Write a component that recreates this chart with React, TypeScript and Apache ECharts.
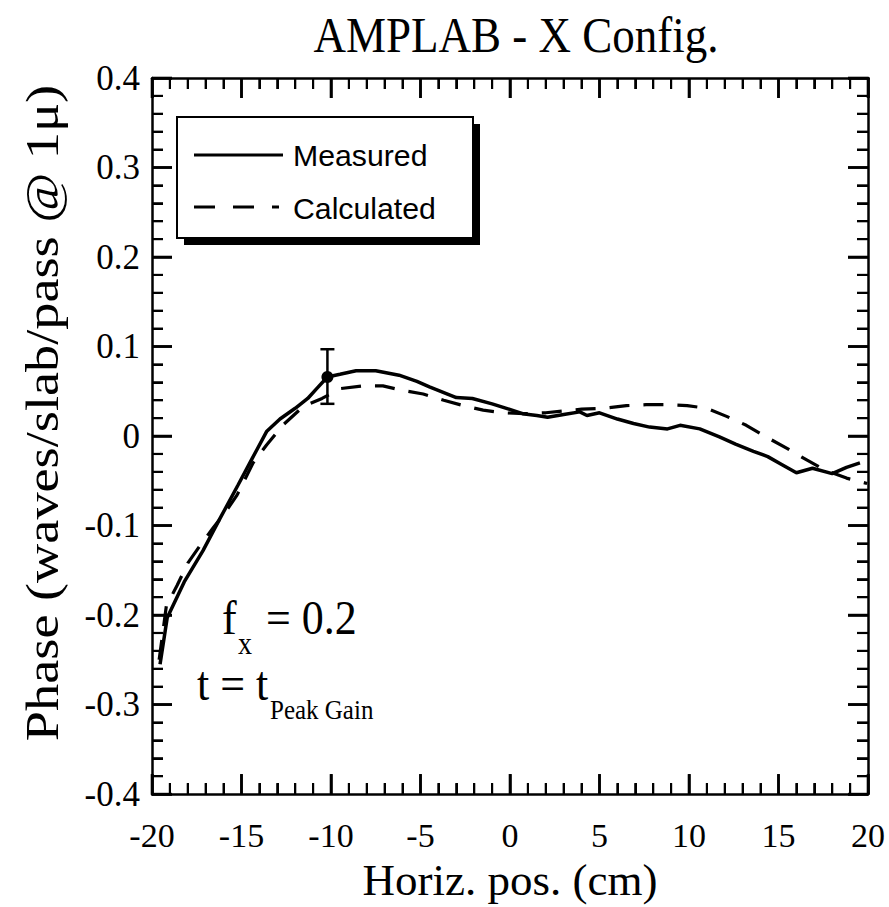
import React, { useEffect, useRef } from "react";
import * as echarts from "echarts";

const xTicks = [-20, -15, -10, -5, 0, 5, 10, 15, 20];
const yTicks = [-0.4, -0.3, -0.2, -0.1, 0, 0.1, 0.2, 0.3, 0.4];
const minorPerMajor = 5;

const measuredX = [-19.55, -19.15, -18.2, -17.15, -16.2, -15.2, -14.4, -13.6, -12.85, -12.0, -11.3, -10.8, -10.2, -9.5, -8.6, -7.5, -6.2, -5.2, -4.5, -3.0, -2.1, -1.0, -0.2, 0.7, 1.5, 2.1, 3.0, 3.9, 4.3, 5.0, 6.0, 6.9, 7.8, 8.8, 9.5, 10.6, 11.7, 12.6, 13.6, 14.4, 15.2, 16.0, 16.9, 18.0, 18.8, 19.55];
const measuredY = [-0.255, -0.203, -0.163, -0.128, -0.092, -0.055, -0.025, 0.005, 0.019, 0.031, 0.042, 0.053, 0.066, 0.069, 0.073, 0.073, 0.068, 0.061, 0.055, 0.043, 0.042, 0.036, 0.031, 0.025, 0.023, 0.021, 0.024, 0.027, 0.023, 0.026, 0.019, 0.014, 0.010, 0.008, 0.012, 0.008, -0.001, -0.009, -0.017, -0.023, -0.032, -0.041, -0.036, -0.042, -0.035, -0.030];

const calcX = [-19.6, -19.2, -18.6, -18.0, -17.3, -16.6, -15.9, -15.25, -14.35, -13.6, -12.7, -11.55, -10.5, -9.5, -8.2, -7.1, -6.0, -4.85, -3.7, -2.6, -1.5, -0.4, 0.8, 2.0, 3.0, 4.0, 5.2, 6.5, 7.6, 8.8, 9.9, 11.0, 12.1, 13.2, 14.4, 15.5, 16.6, 17.6, 18.8, 19.95];
const calcY = [-0.25, -0.19, -0.167, -0.142, -0.122, -0.103, -0.085, -0.066, -0.03, -0.01, 0.012, 0.033, 0.042, 0.053, 0.056, 0.056, 0.051, 0.047, 0.040, 0.034, 0.029, 0.026, 0.025, 0.026, 0.028, 0.030, 0.031, 0.034, 0.035, 0.035, 0.034, 0.031, 0.022, 0.012, -0.002, -0.014, -0.027, -0.038, -0.047, -0.053];

// error bar: [x, center, low, high]
const errorBarX = [-10.2];
const errorBarCenter = [0.066];
const errorBarLow = [0.036];
const errorBarHigh = [0.097];

const seriesNames = ["Measured", "Calculated"];

const SERIF = "'Liberation Serif', 'Times New Roman', serif";
const SANS = "'Liberation Sans', Arial, sans-serif";

export default function App() {
  const ref = useRef<HTMLDivElement>(null);

  useEffect(() => {
    if (!ref.current) return;
    const chart = echarts.init(ref.current, undefined, { renderer: "svg" });

    const measured = measuredX.map((x, i) => [x, measuredY[i]]);
    const calculated = calcX.map((x, i) => [x, calcY[i]]);
    const errData = errorBarX.map((x, i) => [x, errorBarCenter[i], errorBarLow[i], errorBarHigh[i]]);

    const mkLine = () => ({ show: true, onZero: false, lineStyle: { color: "#000", width: 2.5 } });
    const mkTick = () => ({ show: true, inside: true, length: 20, lineStyle: { color: "#000", width: 2.5 } });
    const mkMinor = () => ({ show: true, splitNumber: 5, length: 11, lineStyle: { color: "#000", width: 2 } });
    const yFmt = (v: number) => (Math.abs(v) < 1e-9 ? "0" : v.toFixed(1));

    const minorOf = (ticks: number[]) => {
      const out: number[] = [];
      for (let i = 0; i < ticks.length - 1; i++) {
        const step = (ticks[i + 1] - ticks[i]) / minorPerMajor;
        for (let k = 1; k < minorPerMajor; k++) out.push(ticks[i] + step * k);
      }
      return out;
    };

    const annot = (text: string, x: number, y: number, size: number) => ({
      type: "text",
      x,
      y,
      scaleY: 1.12,
      z: 12,
      style: { text, font: `${size}px ${SERIF}`, fill: "#000", textAlign: "left", textVerticalAlign: "middle" },
    });

    const baseGraphics: any[] = [
      {
        type: "text",
        x: 516,
        y: 35,
        scaleX: 0.9,
        style: {
          text: "AMPLAB - X Config.",
          font: `50px ${SERIF}`,
          fill: "#000",
          textAlign: "center",
          textVerticalAlign: "middle",
        },
      },
      {
        type: "text",
        x: 42,
        y: 413,
        rotation: Math.PI / 2,
        scaleX: 1.18,
        style: {
          text: "Phase (waves/slab/pass @ 1μ)",
          font: `46px ${SERIF}`,
          fill: "#000",
          textAlign: "center",
          textVerticalAlign: "middle",
        },
      },
      { type: "rect", shape: { x: 184, y: 124, width: 296, height: 121 }, style: { fill: "#000" }, z: 10 },
      { type: "rect", shape: { x: 177, y: 117, width: 296, height: 121 }, style: { fill: "#fff", stroke: "#000", lineWidth: 2 }, z: 11 },
      { type: "line", shape: { x1: 194, y1: 155, x2: 283, y2: 155 }, style: { stroke: "#000", lineWidth: 3 }, z: 12 },
      { type: "line", shape: { x1: 194, y1: 207, x2: 279, y2: 207 }, style: { stroke: "#000", lineWidth: 3, lineDash: [21, 18] }, z: 12 },
      {
        type: "text",
        x: 293,
        y: 156,
        scaleX: 1.12,
        scaleY: 1.1,
        z: 12,
        style: { text: seriesNames[0], font: `27px ${SANS}`, fill: "#000", textAlign: "left", textVerticalAlign: "middle" },
      },
      {
        type: "text",
        x: 293,
        y: 209,
        scaleX: 1.12,
        scaleY: 1.1,
        z: 12,
        style: { text: seriesNames[1], font: `27px ${SANS}`, fill: "#000", textAlign: "left", textVerticalAlign: "middle" },
      },
      annot("f", 222, 617, 44),
      annot("x", 238, 643, 28),
      annot("= 0.2", 266, 617, 44),
      annot("t = t", 197, 683, 44),
      annot("Peak Gain", 270, 710, 25),
    ];

    const option: any = {
      animation: false,
      backgroundColor: "#fff",
      grid: { left: 152, right: 21, top: 78, bottom: 110, containLabel: false },
      xAxis: [
        {
          type: "value",
          position: "bottom",
          min: xTicks[0],
          max: xTicks[xTicks.length - 1],
          interval: 5,
          axisLine: mkLine(),
          axisTick: mkTick(),
          minorTick: mkMinor(),
          splitLine: { show: false },
          axisLabel: { show: true, margin: 24, color: "#000", fontFamily: SERIF, fontSize: 34 },
          name: "Horiz. pos. (cm)",
          nameLocation: "middle",
          nameGap: 56,
          nameTextStyle: { color: "#000", fontFamily: SERIF, fontSize: 45 },
        },
        {
          type: "value",
          position: "top",
          min: xTicks[0],
          max: xTicks[xTicks.length - 1],
          interval: 5,
          axisLine: mkLine(),
          axisTick: mkTick(),
          minorTick: mkMinor(),
          splitLine: { show: false },
          axisLabel: { show: false },
        },
      ],
      yAxis: [
        {
          type: "value",
          position: "left",
          min: yTicks[0],
          max: yTicks[yTicks.length - 1],
          interval: 0.1,
          axisLine: mkLine(),
          axisTick: mkTick(),
          minorTick: mkMinor(),
          splitLine: { show: false },
          axisLabel: { show: true, margin: 12, color: "#000", fontFamily: SERIF, fontSize: 35, formatter: yFmt },
        },
        {
          type: "value",
          position: "right",
          min: yTicks[0],
          max: yTicks[yTicks.length - 1],
          interval: 0.1,
          axisLine: mkLine(),
          axisTick: mkTick(),
          minorTick: mkMinor(),
          splitLine: { show: false },
          axisLabel: { show: false },
        },
      ],
      series: [
        {
          name: seriesNames[0],
          type: "line",
          data: measured,
          showSymbol: false,
          symbol: "none",
          lineStyle: { color: "#000", width: 3.5 },
          z: 3,
        },
        {
          name: seriesNames[1],
          type: "line",
          data: calculated,
          showSymbol: false,
          symbol: "none",
          lineStyle: { color: "#000", width: 3.2, type: [20, 14] },
          z: 2,
        },
        {
          name: "errorbar",
          type: "custom",
          data: errData,
          encode: { x: 0, y: 1 },
          z: 4,
          renderItem: (params: any, api: any) => {
            const x = api.value(0);
            const c = api.coord([x, api.value(1)]);
            const lo = api.coord([x, api.value(2)]);
            const hi = api.coord([x, api.value(3)]);
            const hw = 7;
            const st = { stroke: "#000", lineWidth: 2.5 };
            return {
              type: "group",
              children: [
                { type: "line", shape: { x1: hi[0], y1: hi[1], x2: lo[0], y2: lo[1] }, style: st },
                { type: "line", shape: { x1: hi[0] - hw, y1: hi[1], x2: hi[0] + hw, y2: hi[1] }, style: st },
                { type: "line", shape: { x1: lo[0] - hw, y1: lo[1], x2: lo[0] + hw, y2: lo[1] }, style: st },
                { type: "circle", shape: { cx: c[0], cy: c[1], r: 6 }, style: { fill: "#000" } },
              ],
            };
          },
        },
      ],
      graphic: baseGraphics,
    };

    chart.setOption(option);

    // frame ticks placed through the chart's own axis scales
    const finder = { xAxisIndex: 0, yAxisIndex: 0 };
    const p0 = chart.convertToPixel(finder, [xTicks[0], yTicks[0]]) as number[];
    const p1 = chart.convertToPixel(finder, [xTicks[xTicks.length - 1], yTicks[yTicks.length - 1]]) as number[];
    const left = p0[0];
    const bottom = p0[1];
    const right = p1[0];
    const top = p1[1];
    const tickEls: any[] = [];
    const addTick = (x1: number, y1: number, x2: number, y2: number, w: number) =>
      tickEls.push({ type: "line", z: 100, shape: { x1, y1, x2, y2 }, style: { stroke: "#000", lineWidth: w } });
    const xPix = (v: number) => (chart.convertToPixel(finder, [v, yTicks[0]]) as number[])[0];
    const yPix = (v: number) => (chart.convertToPixel(finder, [xTicks[0], v]) as number[])[1];
    xTicks.forEach((v) => {
      const px = xPix(v);
      addTick(px, bottom, px, bottom - 20, 2.6);
      addTick(px, top, px, top + 20, 2.6);
    });
    minorOf(xTicks).forEach((v) => {
      const px = xPix(v);
      addTick(px, bottom, px, bottom - 11, 2.2);
      addTick(px, top, px, top + 11, 2.2);
    });
    yTicks.forEach((v) => {
      const py = yPix(v);
      addTick(left, py, left + 20, py, 2.6);
      addTick(right, py, right - 20, py, 2.6);
    });
    minorOf(yTicks).forEach((v) => {
      const py = yPix(v);
      addTick(left, py, left + 11, py, 2.2);
      addTick(right, py, right - 11, py, 2.2);
    });
    chart.setOption({ graphic: [...baseGraphics, ...tickEls] });

    return () => chart.dispose();
  }, []);

  return (
    <div
      ref={ref}
      style={{ position: "fixed", left: 0, top: 0, width: 889, height: 907, background: "#fff" }}
    />
  );
}
